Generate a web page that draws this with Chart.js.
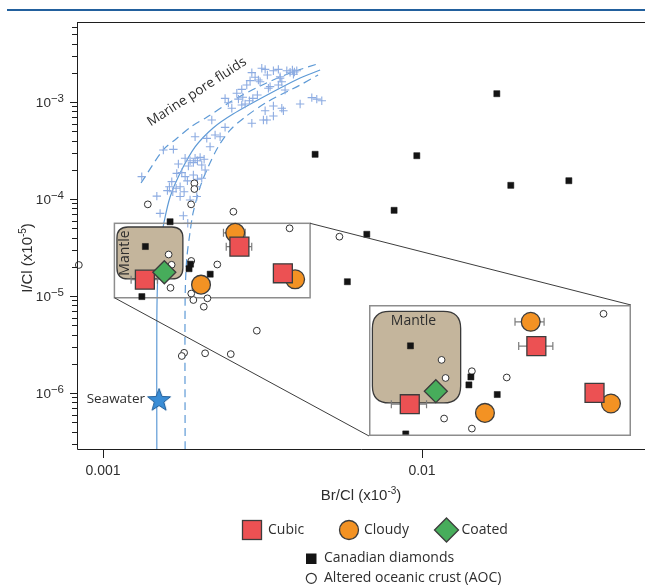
<!DOCTYPE html>
<html>
<head>
<meta charset="utf-8">
<script src="https://cdn.jsdelivr.net/npm/chart.js@4.4.1/dist/chart.umd.min.js"></script>
<style>
  body { margin: 0; background: #fff; }
  #wrap { position: relative; width: 645px; height: 586px; }
  #inset { position: absolute; left: 369px; top: 305px; }
</style>
</head>
<body>
<div id="wrap">
  <canvas id="main" width="645" height="586"></canvas>
  <canvas id="inset" width="262" height="131"></canvas>
</div>
<script>
// axis limits (Br/Cl on x, I/Cl on y)
const xMin = 8.29e-4, xMax = 0.05;
const yMin = 2.65e-7, yMax = 6.68e-3;
const xTicks = [0.001, 0.01];
const xTickLabels = ['0.001', '0.01'];
const yTicks = [1e-6, 1e-5, 1e-4, 1e-3];
const yTickExp = ['\u22126', '\u22125', '\u22124', '\u22123'];

// diamond inclusions
const cubicX = [1.353e-3, 2.677e-3, 3.663e-3];
const cubicY = [1.474e-5, 3.23e-5, 1.717e-5];
const cubicLo = [1.225e-3, 2.434e-3, null];
const cubicHi = [1.481e-3, 2.926e-3, null];

const cloudyX = [2.029e-3, 2.597e-3, 4.002e-3];
const cloudyY = [1.311e-5, 4.48e-5, 1.488e-5];
const cloudyLo = [null, 2.386e-3, null];
const cloudyHi = [null, 2.791e-3, null];

const coatedX = [1.557e-3];
const coatedY = [1.757e-5];

const canadianX = [1.358e-3, 1.324e-3, 1.881e-3, 1.861e-3, 2.168e-3, 1.623e-3, 4.623e-3,
  0.01716, 9.632e-3, 0.01898, 0.02886, 8.175e-3, 6.714e-3, 5.835e-3];
const canadianY = [3.24e-5, 9.87e-6, 2.13e-5, 1.913e-5, 1.68e-5, 5.83e-5, 2.89e-4,
  1.218e-3, 2.796e-4, 1.384e-4, 1.544e-4, 7.65e-5, 4.33e-5, 1.404e-5];

const aocX = [1.606e-3, 1.641e-3, 1.628e-3, 1.891e-3, 2.282e-3, 1.891e-3, 3.845e-3, 8.4e-4,
  3.035e-3, 1.796e-3, 1.766e-3, 2.090e-3, 2.515e-3, 2.070e-3, 1.920e-3, 2.125e-3,
  5.509e-3, 1.382e-3, 1.889e-3, 1.934e-3, 1.934e-3, 2.563e-3];
const aocY = [2.68e-5, 2.10e-5, 1.215e-5, 2.30e-5, 2.114e-5, 1.061e-5, 4.99e-5, 2.09e-5,
  4.39e-6, 2.60e-6, 2.41e-6, 2.57e-6, 2.52e-6, 7.76e-6, 9.1e-6, 9.47e-6,
  4.09e-5, 8.81e-5, 8.81e-5, 1.452e-4, 1.268e-4, 7.4e-5];

// marine pore fluids
const poreX = [
  2.928e-3, 2.998e-3, 2.891e-3, 3.146e-3, 3.223e-3, 3.276e-3, 3.421e-3, 3.546e-3, 3.591e-3, 3.769e-3,
  3.859e-3, 3.924e-3, 3.981e-3, 4.050e-3, 3.953e-3, 3.635e-3, 3.546e-3, 3.340e-3, 3.108e-3, 2.823e-3,
  2.723e-3, 2.414e-3, 2.472e-3, 2.627e-3, 2.658e-3, 2.743e-3, 2.789e-3, 2.877e-3, 2.949e-3, 3.048e-3,
  2.534e-3, 3.223e-3, 3.421e-3, 3.635e-3, 3.677e-3, 4.149e-3, 4.514e-3, 4.679e-3, 4.851e-3, 2.928e-3,
  3.262e-3, 3.421e-3, 2.414e-3, 2.329e-3, 2.115e-3, 2.193e-3, 1.944e-3, 1.546e-3, 1.662e-3, 1.809e-3,
  1.875e-3, 1.920e-3, 1.944e-3, 1.977e-3, 2.016e-3, 2.075e-3, 1.852e-3, 1.723e-3, 1.703e-3, 1.766e-3,
  1.809e-3, 1.839e-3, 1.920e-3, 1.977e-3, 1.643e-3, 1.615e-3, 1.592e-3, 1.655e-3, 1.695e-3, 1.745e-3,
  1.796e-3, 1.475e-3, 1.510e-3, 1.968e-3, 1.875e-3, 1.745e-3, 1.786e-3, 1.323e-3, 3.070e-3, 3.591e-3,
  3.300e-3, 3.722e-3, 2.723e-3, 3.183e-3, 2.246e-3, 1.968e-3, 2.040e-3, 2.090e-3, 2.040e-3, 2.166e-3, 1.844e-3];
const poreY = [
  2.01e-3, 1.80e-3, 1.66e-3, 2.23e-3, 2.17e-3, 1.90e-3, 2.10e-3, 2.17e-3, 1.82e-3, 2.10e-3,
  2.03e-3, 2.14e-3, 2.04e-3, 2.10e-3, 1.93e-3, 1.62e-3, 1.50e-3, 1.44e-3, 1.62e-3, 1.50e-3,
  1.35e-3, 1.09e-3, 9.83e-4, 1.23e-3, 1.07e-3, 1.12e-3, 9.54e-4, 1.03e-3, 1.09e-3, 1.18e-3,
  8.61e-4, 8.13e-4, 9.10e-4, 8.61e-4, 8.13e-4, 9.54e-4, 1.11e-3, 1.07e-3, 1.03e-3, 6.03e-4,
  6.52e-4, 7.17e-4, 5.48e-4, 4.39e-4, 4.22e-4, 6.52e-4, 4.39e-4, 3.20e-4, 3.25e-4, 2.63e-4,
  2.48e-4, 2.37e-4, 2.63e-4, 2.48e-4, 2.69e-4, 2.57e-4, 2.19e-4, 2.30e-4, 1.84e-4, 1.87e-4,
  1.70e-4, 1.54e-4, 1.77e-4, 1.60e-4, 1.51e-4, 1.34e-4, 1.22e-4, 1.19e-4, 1.29e-4, 1.34e-4,
  1.19e-4, 1.07e-4, 7.12e-5, 1.06e-4, 9.77e-5, 1.06e-4, 6.73e-5, 1.70e-4, 1.685e-3, 1.756e-3,
  1.384e-3, 1.33e-3, 9.31e-4, 6.52e-4, 4.57e-4, 1.34e-4, 1.635e-4, 1.99e-4, 2.24e-4, 3.46e-4, 5.62e-5];

// seawater - pore fluid mixing curves
const mixX = [1.475e-3, 1.475e-3, 1.488e-3, 1.521e-3, 1.554e-3, 1.623e-3, 1.745e-3, 1.944e-3, 2.214e-3, 2.557e-3, 3.269e-3, 4.149e-3, 4.793e-3];
const mixY = [2.65e-7, 5.66e-6, 1.853e-5, 3.78e-5, 5.80e-5, 1.05e-4, 1.853e-4, 3.44e-4, 5.40e-4, 7.52e-4, 1.181e-3, 1.768e-3, 2.138e-3];
const lowerX = [1.809e-3, 1.809e-3, 1.829e-3, 1.875e-3, 1.916e-3, 2.016e-3, 2.136e-3, 2.295e-3, 2.503e-3, 2.789e-3, 3.269e-3, 4.149e-3, 4.724e-3];
const lowerY = [2.65e-7, 9.1e-6, 2.35e-5, 4.57e-5, 7.18e-5, 1.33e-4, 2.14e-4, 3.44e-4, 5.14e-4, 7.0e-4, 1.0e-3, 1.497e-3, 1.90e-3];
const upperX = [1.316e-3, 1.543e-3, 1.695e-3, 1.902e-3, 2.120e-3, 2.503e-3, 3.108e-3, 3.859e-3, 4.793e-3];
const upperY = [1.462e-4, 3.2e-4, 4.155e-4, 5.66e-4, 7.0e-4, 1.0e-3, 1.462e-3, 1.99e-3, 2.52e-3];

const seawaterX = [1.499e-3];
const seawaterY = [8.67e-7];

// regions: mantle field and the zoomed window
const mantleX = [1.106e-3, 1.78e-3];
const mantleY = [1.5e-5, 5.15e-5];
const zoomX = [1.086e-3, 4.459e-3];
const zoomY = [9.6e-6, 5.62e-5];

const INK = '#2e2e2e';
const SANS = '"Liberation Sans", Arial, sans-serif';
const MYR = '"Open Sans", "Noto Sans", sans-serif';
const RED = '#ec5153', ORANGE = '#f39223', GREEN = '#47ad5b', EDGE = '#3c3c3c';

function pts(xs, ys, lo, hi) {
  return xs.map((x, i) => ({ x: x, y: ys[i], lo: lo ? lo[i] : null, hi: hi ? hi[i] : null }));
}
function inZoom(p) {
  return p.x >= zoomX[0] && p.x <= zoomX[1] && p.y >= zoomY[0] && p.y <= zoomY[1];
}

function makeStar(r) {
  const c = document.createElement('canvas');
  const s = Math.ceil(r * 2 + 4);
  c.width = s; c.height = s;
  const g = c.getContext('2d');
  g.beginPath();
  for (let i = 0; i < 10; i++) {
    const rr = i % 2 ? r * 0.42 : r;
    const a = -Math.PI / 2 + i * Math.PI / 5;
    g.lineTo(s / 2 + rr * Math.cos(a), s / 2 + 1.5 + rr * Math.sin(a));
  }
  g.closePath();
  g.fillStyle = '#3a8dd6'; g.fill();
  g.strokeStyle = '#1f5d99'; g.lineWidth = 1; g.stroke();
  return c;
}

function roundRect(ctx, x0, y0, x1, y1, r) {
  ctx.beginPath();
  ctx.moveTo(x0 + r, y0);
  ctx.lineTo(x1 - r, y0);
  ctx.quadraticCurveTo(x1, y0, x1, y0 + r);
  ctx.lineTo(x1, y1 - r);
  ctx.quadraticCurveTo(x1, y1, x1 - r, y1);
  ctx.lineTo(x0 + r, y1);
  ctx.quadraticCurveTo(x0, y1, x0, y1 - r);
  ctx.lineTo(x0, y0 + r);
  ctx.quadraticCurveTo(x0, y0, x0 + r, y0);
  ctx.closePath();
}

function drawMantle(chart, r) {
  const { ctx, scales: { x, y } } = chart;
  const x0 = x.getPixelForValue(mantleX[0]), x1 = x.getPixelForValue(mantleX[1]);
  const y0 = y.getPixelForValue(mantleY[1]), y1 = y.getPixelForValue(mantleY[0]);
  ctx.save();
  roundRect(ctx, x0, y0, x1, y1, r);
  ctx.fillStyle = '#c4b59c';
  ctx.fill();
  ctx.strokeStyle = '#3a3a3a';
  ctx.lineWidth = 1.3;
  ctx.stroke();
  ctx.restore();
  return [x0, y0, x1, y1];
}

function drawErrorBars(chart) {
  const { ctx, scales: { x, y } } = chart;
  ctx.save();
  ctx.strokeStyle = '#7c7c7c';
  ctx.lineWidth = 1.2;
  chart.data.datasets.forEach(ds => {
    ds.data.forEach(p => {
      if (p.lo == null) return;
      const py = y.getPixelForValue(p.y);
      const a = x.getPixelForValue(p.lo), b = x.getPixelForValue(p.hi);
      ctx.beginPath();
      ctx.moveTo(a, py); ctx.lineTo(b, py);
      ctx.moveTo(a, py - 4); ctx.lineTo(a, py + 4);
      ctx.moveTo(b, py - 4); ctx.lineTo(b, py + 4);
      ctx.stroke();
    });
  });
  ctx.restore();
}

function textRun(ctx, parts, x, y, align) {
  let w = 0;
  parts.forEach(p => { ctx.font = p.size + 'px ' + SANS; p.w = ctx.measureText(p.t).width; w += p.w; });
  let cx = align === 'right' ? x - w : x - w / 2;
  parts.forEach(p => { ctx.font = p.size + 'px ' + SANS; ctx.fillText(p.t, cx, y - (p.up || 0)); cx += p.w; });
}

function markerDatasets(filter) {
  const f = filter || (() => true);
  return [
    { label: 'Coated', data: pts(coatedX, coatedY).filter(f), order: 0,
      pointStyle: 'rectRot', pointRadius: 11.5, backgroundColor: GREEN, borderColor: EDGE, borderWidth: 1.3 },
    { label: 'Cubic', data: pts(cubicX, cubicY, cubicLo, cubicHi).filter(f), order: 1,
      pointStyle: 'rect', pointRadius: 13.4, backgroundColor: RED, borderColor: EDGE, borderWidth: 1.3 },
    { label: 'Cloudy', data: pts(cloudyX, cloudyY, cloudyLo, cloudyHi).filter(f), order: 2,
      pointStyle: 'circle', pointRadius: 9.4, backgroundColor: ORANGE, borderColor: EDGE, borderWidth: 1.3 },
    { label: 'Canadian diamonds', data: pts(canadianX, canadianY).filter(f), order: 4,
      pointStyle: 'rect', pointRadius: 4.3, backgroundColor: '#141414', borderColor: '#141414', borderWidth: 0.5 },
    { label: 'Altered oceanic crust (AOC)', data: pts(aocX, aocY).filter(f), order: 5, clip: false,
      pointStyle: 'circle', pointRadius: 3.4, backgroundColor: '#fff', borderColor: '#333', borderWidth: 1 }
  ];
}

const star = makeStar(12);

const mainDecor = {
  id: 'mainDecor',
  beforeDraw(chart) {
    const ctx = chart.ctx;
    ctx.save();
    ctx.fillStyle = '#fff';
    ctx.fillRect(0, 0, chart.width, chart.height);
    ctx.strokeStyle = '#22609d';
    ctx.lineWidth = 2;
    ctx.beginPath(); ctx.moveTo(7, 10); ctx.lineTo(chart.width, 10); ctx.stroke();
    ctx.restore();
  },
  afterDatasetDraw(chart, args) {
    if (!chart.data.datasets[args.index].mantleAfter) return;
    const { ctx, scales: { x, y } } = chart;
    // zoom window
    ctx.save();
    ctx.strokeStyle = '#8d8d8d';
    ctx.lineWidth = 1.5;
    const zx0 = x.getPixelForValue(zoomX[0]), zx1 = x.getPixelForValue(zoomX[1]);
    const zy0 = y.getPixelForValue(zoomY[1]), zy1 = y.getPixelForValue(zoomY[0]);
    ctx.strokeRect(zx0, zy0, zx1 - zx0, zy1 - zy0);
    ctx.restore();
    const m = drawMantle(chart, 11);
    ctx.save();
    ctx.fillStyle = INK;
    ctx.font = '14px ' + MYR;
    ctx.textAlign = 'center';
    ctx.textBaseline = 'middle';
    ctx.translate(m[0] + 8.5, (m[1] + m[3]) / 2);
    ctx.rotate(-Math.PI / 2);
    ctx.fillText('Mantle', 0, 0);
    ctx.restore();
    drawErrorBars(chart);
  },
  afterDatasetsDraw(chart) {
    const { ctx, scales: { x, y } } = chart;
    const el = document.getElementById('inset');
    const L = el.offsetLeft, T = el.offsetTop, W = el.width, H = el.height;
    ctx.save();
    ctx.strokeStyle = '#3d3d3d';
    ctx.lineWidth = 1;
    ctx.beginPath();
    ctx.moveTo(x.getPixelForValue(zoomX[1]), y.getPixelForValue(zoomY[1]));
    ctx.lineTo(L + W, T);
    ctx.moveTo(x.getPixelForValue(zoomX[0]), y.getPixelForValue(zoomY[0]));
    ctx.lineTo(L, T + H);
    ctx.stroke();
    ctx.restore();
  },
  afterDraw(chart) {
    const { ctx, chartArea: a, scales: { x, y } } = chart;
    ctx.save();
    ctx.strokeStyle = '#1e1e1e';
    ctx.lineWidth = 1;
    ctx.beginPath();
    ctx.moveTo(a.left + 0.5, a.top); ctx.lineTo(a.left + 0.5, a.bottom + 0.5);
    ctx.lineTo(a.right, a.bottom + 0.5);
    ctx.moveTo(a.left, a.top + 0.5); ctx.lineTo(a.right, a.top + 0.5);
    // y ticks, decades and minors
    for (let d = -7; d <= -3; d++) {
      for (let k = 1; k <= 9; k++) {
        const v = k * Math.pow(10, d);
        if (v < yMin || v > yMax) continue;
        const py = Math.round(y.getPixelForValue(v)) + 0.5;
        ctx.moveTo(a.left, py); ctx.lineTo(a.left - (k === 1 ? 7 : 5), py);
      }
    }
    xTicks.forEach(v => {
      const px = Math.round(x.getPixelForValue(v)) + 0.5;
      ctx.moveTo(px, a.bottom); ctx.lineTo(px, a.bottom + 9);
    });
    ctx.stroke();

    ctx.fillStyle = INK;
    ctx.textAlign = 'left';
    ctx.textBaseline = 'alphabetic';
    yTicks.forEach((v, i) => {
      const py = y.getPixelForValue(v);
      textRun(ctx, [{ t: '10', size: 13.5 }, { t: yTickExp[i], size: 11.5, up: 5 }], 64, py + 4.8, 'right');
    });
    xTicks.forEach((v, i) => {
      textRun(ctx, [{ t: xTickLabels[i], size: 14 }], x.getPixelForValue(v), 475, 'center');
    });
    textRun(ctx, [{ t: 'Br/Cl (x10', size: 15 }, { t: '-3', size: 10, up: 6.5 }, { t: ')', size: 15 }], 361, 500, 'center');
    ctx.save();
    ctx.translate(27, 258);
    ctx.rotate(-Math.PI / 2);
    textRun(ctx, [{ t: 'I/Cl (x10', size: 15 }, { t: '-5', size: 10, up: 6.5 }, { t: ')', size: 15 }], 0, 5, 'center');
    ctx.restore();

    // annotations
    ctx.font = '13.5px ' + MYR;
    ctx.textBaseline = 'middle';
    ctx.textAlign = 'right';
    ctx.fillText('Seawater', 145, y.getPixelForValue(seawaterY[0]));
    ctx.save();
    ctx.translate(197, 92);
    ctx.rotate(-33 * Math.PI / 180);
    ctx.textAlign = 'center';
    ctx.fillText('Marine pore fluids', 0, 0);
    ctx.restore();

    // legend
    ctx.lineWidth = 1.3;
    ctx.strokeStyle = EDGE;
    ctx.fillStyle = RED;
    ctx.fillRect(242.5, 520.5, 19, 19); ctx.strokeRect(242.5, 520.5, 19, 19);
    ctx.fillStyle = ORANGE;
    ctx.beginPath(); ctx.arc(349, 530, 9.5, 0, Math.PI * 2); ctx.fill(); ctx.stroke();
    ctx.fillStyle = GREEN;
    ctx.beginPath(); ctx.moveTo(446.5, 518); ctx.lineTo(458.5, 530); ctx.lineTo(446.5, 542); ctx.lineTo(434.5, 530);
    ctx.closePath(); ctx.fill(); ctx.stroke();
    ctx.fillStyle = '#141414';
    ctx.fillRect(306, 553.5, 10.5, 10.5);
    ctx.fillStyle = '#fff';
    ctx.strokeStyle = '#333';
    ctx.lineWidth = 1.2;
    ctx.beginPath(); ctx.arc(311.3, 578.3, 5, 0, Math.PI * 2); ctx.fill(); ctx.stroke();

    ctx.fillStyle = INK;
    ctx.textAlign = 'left';
    ctx.textBaseline = 'middle';
    ctx.font = '14px ' + MYR;
    ctx.fillText('Cubic', 268, 530);
    ctx.fillText('Cloudy', 364, 530);
    ctx.fillText('Coated', 461.5, 530);
    ctx.fillText('Canadian diamonds', 324, 558.5);
    ctx.fillText('Altered oceanic crust (AOC)', 324, 578);
    ctx.restore();
  }
};

const lineStyle = { showLine: true, pointRadius: 0, borderColor: '#5e9ad6', borderWidth: 1.2, tension: 0.3, fill: false, order: 10 };

new Chart(document.getElementById('main'), {
  type: 'scatter',
  data: {
    datasets: markerDatasets().concat([
      { label: 'Seawater', data: pts(seawaterX, seawaterY), order: 3, pointStyle: star, pointRadius: 12 },
      { label: 'Marine pore fluids', data: pts(poreX, poreY), order: 9, mantleAfter: true,
        pointStyle: 'cross', pointRadius: 4.2, borderColor: '#8dace2', borderWidth: 1.1 },
      Object.assign({ label: 'mix', data: pts(mixX, mixY) }, lineStyle),
      Object.assign({ label: 'upper', data: pts(upperX, upperY), borderDash: [8, 5] }, lineStyle),
      Object.assign({ label: 'lower', data: pts(lowerX, lowerY), borderDash: [8, 5] }, lineStyle)
    ])
  },
  options: {
    responsive: false,
    animation: false,
    devicePixelRatio: 1,
    events: [],
    layout: { autoPadding: false, padding: { top: 22, right: 0, left: 0, bottom: 0 } },
    plugins: { legend: { display: false }, tooltip: { enabled: false } },
    scales: {
      x: {
        type: 'logarithmic', min: xMin, max: xMax,
        ticks: { display: false }, grid: { display: false }, border: { display: false },
        afterFit(s) { s.height = 137; }
      },
      y: {
        type: 'logarithmic', min: yMin, max: yMax,
        ticks: { display: false }, grid: { display: false }, border: { display: false },
        afterFit(s) { s.width = 77; }
      }
    }
  },
  plugins: [mainDecor]
});

// magnified window
const insetDecor = {
  id: 'insetDecor',
  beforeDraw(chart) {
    const ctx = chart.ctx;
    ctx.save();
    ctx.fillStyle = '#fff';
    ctx.fillRect(0, 0, chart.width, chart.height);
    ctx.restore();
  },
  beforeDatasetsDraw(chart) {
    const m = drawMantle(chart, 17);
    const ctx = chart.ctx;
    ctx.save();
    ctx.fillStyle = INK;
    ctx.font = '14px ' + MYR;
    ctx.textAlign = 'center';
    ctx.textBaseline = 'middle';
    ctx.fillText('Mantle', (m[0] + m[2]) / 2 - 3, m[1] + 9.5);
    ctx.restore();
    drawErrorBars(chart);
  },
  afterDraw(chart) {
    const ctx = chart.ctx;
    ctx.save();
    ctx.strokeStyle = '#8d8d8d';
    ctx.lineWidth = 1.5;
    ctx.strokeRect(0.75, 0.75, chart.width - 1.5, chart.height - 1.5);
    ctx.restore();
  }
};

new Chart(document.getElementById('inset'), {
  type: 'scatter',
  data: { datasets: markerDatasets(inZoom).map(d => Object.assign(d, { clip: 0 })) },
  options: {
    responsive: false,
    animation: false,
    devicePixelRatio: 1,
    events: [],
    layout: { autoPadding: false, padding: 0 },
    plugins: { legend: { display: false }, tooltip: { enabled: false } },
    scales: {
      x: { type: 'logarithmic', min: zoomX[0], max: zoomX[1], display: false },
      y: { type: 'logarithmic', min: zoomY[0], max: zoomY[1], display: false }
    }
  },
  plugins: [insetDecor]
});
</script>
</body>
</html>
